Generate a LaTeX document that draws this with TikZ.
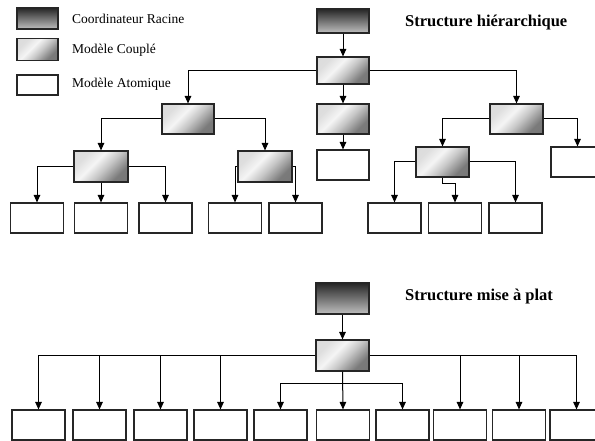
\documentclass[tikz,border=0pt]{standalone}
\usepackage{fontspec}
\setmainfont{Liberation Serif}
\usetikzlibrary{arrows.meta}
\pgfdeclareverticalshading{cplshade}{100bp}{color(0bp)=(black!55); color(28bp)=(black!52); color(45bp)=(black!22); color(58bp)=(black!4); color(72bp)=(black!13); color(100bp)=(black!15)}
\begin{document}
\begin{tikzpicture}[x=1pt,y=-1pt,
  box/.style={draw=black!85,line width=1.1pt,rectangle,inner sep=0pt,minimum width=53pt,minimum height=30pt},
  atom/.style={box,fill=white},
  coupled/.style={box,shade,shading=cplshade,shading angle=45},
  rootc/.style={box,top color=black!85,bottom color=black!25},
  arr/.style={draw=black,line width=1pt,-{Triangle[length=7.5pt,width=6.5pt]}},
  lbl/.style={anchor=west,inner sep=0pt,font=\fontsize{13.5}{15}\selectfont},
  ttl/.style={anchor=west,inner sep=0pt,font=\fontsize{16.5}{18}\selectfont\bfseries}]
\useasboundingbox (0,0) rectangle (595,441);
\clip (0,0) rectangle (595,441);
% legend
\node[rootc,minimum width=41pt,minimum height=21pt] (lg1) at (37.5,18.5) {};
\node[coupled,minimum width=41pt,minimum height=22pt] (lg2) at (37.5,49.5) {};
\node[atom,minimum width=41pt,minimum height=20pt] (lg3) at (37.5,85) {};
\node[lbl] (t1) at (72,19) {Coordinateur Racine};
\node[lbl] (t2) at (72,50) {Modèle Couplé};
\node[lbl] (t3) at (72,84) {Modèle Atomique};
\node[ttl] (title1) at (405,23) {Structure hiérarchique};
\node[ttl] (title2) at (405,297) {Structure mise à plat};
% hierarchical
\node[rootc,minimum width=52pt,minimum height=24pt] (R) at (343,21) {};
\node[coupled,minimum width=52pt,minimum height=27pt] (C0) at (343,70.5) {};
\node[coupled,minimum width=52pt] (A) at (188,119) {};
\node[coupled,minimum width=52pt] (B) at (343,119) {};
\node[atom,minimum width=52pt] (Ba) at (343,165) {};
\node[coupled] (C) at (516.5,119) {};
\node[coupled,minimum width=54pt,minimum height=31pt] (AL) at (101,166.5) {};
\node[coupled,minimum width=54pt,minimum height=31pt] (AR) at (265,166.5) {};
\node[atom] (a1) at (37,218) {};
\node[atom] (a2) at (101,218) {};
\node[atom] (a3) at (165.5,218) {};
\node[atom] (a4) at (235,218) {};
\node[atom] (a5) at (295.5,218) {};
\node[coupled] (CL) at (442.5,162) {};
\node[atom] (CR) at (577.5,162) {};
\node[atom] (c1) at (394.5,218) {};
\node[atom] (c2) at (455,218) {};
\node[atom] (c3) at (515.5,218) {};
\draw[arr] (R) -- (C0);
\draw[arr] (C0.west) -| (A.north);
\draw[arr] (C0.east) -| (C.north);
\draw[arr] (C0) -- (B);
\draw[arr] (B) -- (Ba);
\draw[arr] (A.west) -| (AL.north);
\draw[arr] (A.east) -| (AR.north);
\draw[arr] (AL.west) -| (a1.north);
\draw[arr] (AL.south) -- (a2.north);
\draw[arr] (AL.east) -| (a3.north);
\draw[arr] (AR.west) -| (a4.north);
\draw[arr] (AR.east) -| (a5.north);
\draw[arr] (C.west) -| (CL.north);
\draw[arr] (C.east) -| (CR.north);
\draw[arr] (CL.west) -| (c1.north);
\draw[arr] (CL.south) -- ++(0,6) -| (c2.north);
\draw[arr] (CL.east) -| (c3.north);
% flat
\node[rootc,minimum height=31pt] (R2) at (342.5,298.5) {};
\node[coupled,minimum height=31pt] (C2) at (342.5,355.5) {};
\foreach \i/\x in {1/38.5,2/99.5,3/160.5,4/220.5,5/280.5,6/343,7/402.5,8/460,9/519,10/576.5}
  \node[atom] (b\i) at (\x,425) {};
\coordinate (mid) at (342.5,383);
\draw[arr] (R2) -- (C2);
\draw[arr] (C2.west) -| (b1.north);
\foreach \i in {2,3,4} \draw[arr] (b\i.north |- C2.west) -- (b\i.north);
\draw[arr] (C2.east) -| (b10.north);
\foreach \i in {8,9} \draw[arr] (b\i.north |- C2.east) -- (b\i.north);
\draw[arr] (C2.south) -- (b6.north);
\draw[arr] (mid) -| (b5.north);
\draw[arr] (mid) -| (b7.north);
\end{tikzpicture}
\end{document}
